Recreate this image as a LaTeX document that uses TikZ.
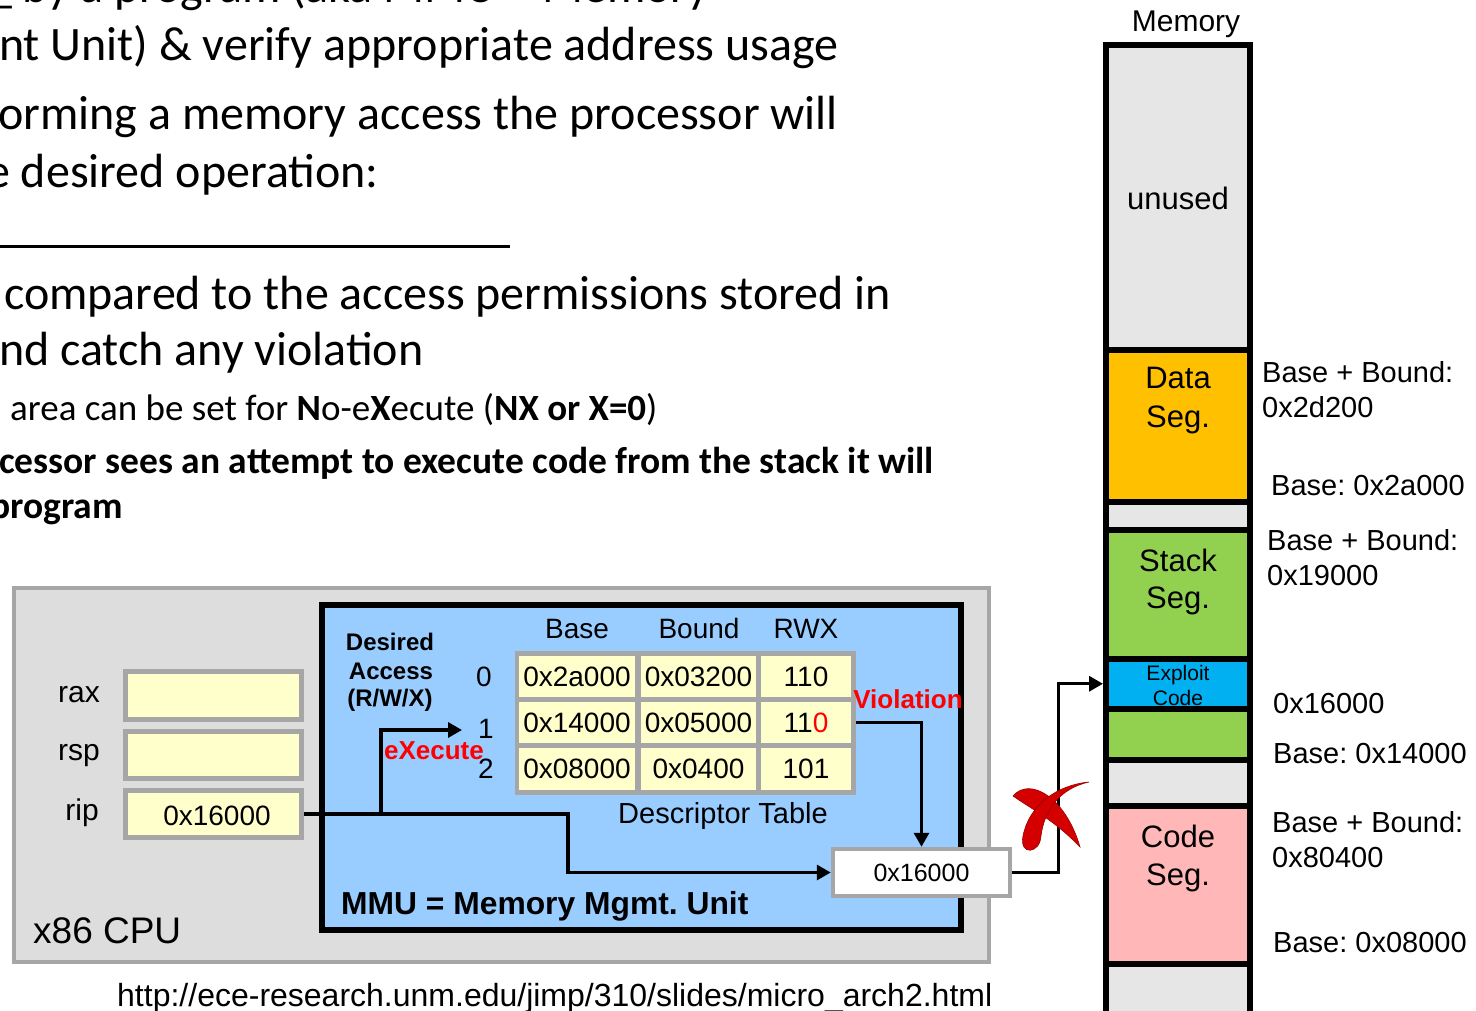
\documentclass[tikz,border=0pt]{standalone}
\usepackage{fontspec}
\setmainfont{Liberation Sans}
\newfontfamily\calibri{Carlito}
\usetikzlibrary{arrows.meta}
\definecolor{cpugray}{HTML}{DDDDDD}
\definecolor{bordgray}{HTML}{A6A6A6}
\definecolor{regyellow}{HTML}{FFFFCC}
\definecolor{mmublue}{HTML}{99CCFF}
\definecolor{memgray}{HTML}{E6E6E6}
\definecolor{dataor}{HTML}{FFC000}
\definecolor{stackgr}{HTML}{92D050}
\definecolor{exblue}{HTML}{00B0F0}
\definecolor{codepink}{HTML}{FFB7B7}
\definecolor{xred}{HTML}{D40000}
\definecolor{xdark}{HTML}{9A0000}
\definecolor{vred}{HTML}{FF0000}
\newcommand{\fsz}[2]{\fontsize{#1}{#2}\selectfont}
\frenchspacing
\begin{document}
\frenchspacing
\begin{tikzpicture}[x=1pt,y=-1pt,
  conn/.style={line width=3.3pt},
  arr/.style={conn,-{Triangle[length=14pt,width=15pt]}},
  lbl/.style={inner sep=0pt,font=\fsz{28}{34}},
  memlbl/.style={inner sep=0pt,font=\fsz{29}{34}},
  seglbl/.style={inner sep=0pt,font=\fsz{31}{37},anchor=base},
  slide/.style={inner sep=0pt,anchor=base west,font=\calibri\fsz{48}{58}},
  slidesm/.style={inner sep=0pt,anchor=base west,font=\calibri\fsz{37}{44}},
  reg/.style={draw=bordgray,fill=regyellow,line width=4.5pt,minimum width=176pt,inner sep=0pt,font=\fsz{28}{34}},
  cell/.style={fill=regyellow,inner sep=0pt,font=\fsz{28}{34}},
  seg/.style={draw=black,line width=6pt,minimum width=144pt,inner sep=0pt},
  redlbl/.style={inner sep=0pt,text=vred,font=\bfseries\fsz{26}{30}}
]
\useasboundingbox (0,0) rectangle (1476,1011);
\clip (0,0) rectangle (1476,1011);

% ---------- slide text ----------
\node[slide] (t1) at (-12,3) {\_ by a program (aka MMU = Memory};
\node[slide] (t2) at (-1,61) {nt Unit) \& verify appropriate address usage};
\node[slide] (t3) at (-2,130) {orming a memory access the processor will};
\node[slide] (t4) at (-14,188) {e desired operation:};
\fill (0,245) rectangle (510,248);
\node[slide] (t6) at (4,309) {compared to the access permissions stored in};
\node[slide] (t7) at (-1,365) {nd catch any violation};
\node[slidesm] (t8) at (10,420) {area can be set for \textbf{N}o-e\textbf{X}ecute (\textbf{NX or X=0})};
\node[slidesm,font=\calibri\bfseries\fsz{37.5}{44}] (t9) at (-1,473) {cessor sees an attempt to execute code from the stack it will};
\node[slidesm,font=\calibri\bfseries\fsz{37.5}{44}] (t10) at (-10,518) {program};

% ---------- CPU ----------
\node[draw=bordgray,fill=cpugray,line width=4pt,minimum width=975.5pt,minimum height=373.5pt,inner sep=0pt] (cpu) at (501.25,774.75) {};
\node[inner sep=0pt,anchor=base west,font=\fsz{37}{44}] (cpul) at (33,943) {x86 CPU};

\node[reg,minimum height=48pt] (rax) at (213.5,695.5) {};
\node[reg,minimum height=47pt] (rsp) at (213.5,755) {};
\node[reg,minimum height=47pt] (rip) at (213.5,814) {};
\node[inner sep=0pt,anchor=base] (ripv) at (217,825) {\fsz{28}{34}0x16000};
\node[lbl,anchor=base east,font=\fsz{30}{34}] (raxl) at (100,702) {rax};
\node[lbl,anchor=base east,font=\fsz{30}{34}] (rspl) at (100,760) {rsp};
\node[lbl,anchor=base east,font=\fsz{30}{34}] (ripl) at (99,820) {rip};

% ---------- MMU ----------
\node[draw=black,fill=mmublue,line width=5.5pt,minimum width=639pt,minimum height=325pt,inner sep=0pt] (mmu) at (641.5,767.5) {};

\node[inner sep=0pt,anchor=base,font=\bfseries\fsz{24}{28}] (da1) at (390,650) {Desired};
\node[inner sep=0pt,anchor=base,font=\bfseries\fsz{24}{28}] (da2) at (391,679) {Access};
\node[inner sep=0pt,anchor=base,font=\bfseries\fsz{24}{28}] (da3) at (390,706) {(R/W/X)};

\node[lbl,anchor=base] (hbase) at (577,638) {Base};
\node[lbl,anchor=base] (hbound) at (699,638) {Bound};
\node[lbl,anchor=base] (hrwx) at (806,638) {RWX};

\node[lbl,anchor=base] (n0) at (484,686) {0};
\node[lbl,anchor=base] (n1) at (486,738) {1};
\node[lbl,anchor=base] (n2) at (486,778) {2};

\node[fill=bordgray,minimum width=340.5pt,minimum height=144pt,inner sep=0pt] (tbl) at (685.25,723) {};
\node[cell,minimum width=116pt,minimum height=41pt] (c00) at (577,676.5) {0x2a000};
\node[cell,minimum width=115pt,minimum height=41pt] (c01) at (698.5,676.5) {0x03200};
\node[cell,minimum width=90pt,minimum height=41pt] (c02) at (806,676.5) {110};
\node[cell,minimum width=116pt,minimum height=41pt] (c10) at (577,722.5) {0x14000};
\node[cell,minimum width=115pt,minimum height=41pt] (c11) at (698.5,722.5) {0x05000};
\node[cell,minimum width=90pt,minimum height=41pt] (c12) at (806,722.5) {11\textcolor{vred}{0}};
\node[cell,minimum width=116pt,minimum height=42pt] (c20) at (577,769) {0x08000};
\node[cell,minimum width=115pt,minimum height=42pt] (c21) at (698.5,769) {0x0400};
\node[cell,minimum width=90pt,minimum height=42pt] (c22) at (806,769) {101};

\node[lbl,anchor=base,font=\fsz{29}{34}] (dtl) at (723,823) {Descriptor Table};
\node[inner sep=0pt,anchor=base west,font=\bfseries\fsz{31.8}{36}] (mmul) at (341,914) {MMU = Memory Mgmt. Unit};

\node[draw=bordgray,fill=white,line width=4.5pt,minimum width=177pt,minimum height=47pt,inner sep=0pt,font=\fsz{25}{30}] (out) at (921.5,872.5) {0x16000};

% ---------- connectors in MMU ----------
\coordinate (split) at (381,814);
\coordinate (xin) at (462,730);
\coordinate (bend) at (568,814);
\draw[conn] (rip.east) -- (split);
\draw[arr] (split) |- (xin);
\draw[arr] (split) -- (bend) |- (out.west);
\draw[arr] (tbl.east |- c12.east) -| (out.north);

\node[redlbl,anchor=base] (viol) at (908,708) {Violation};
\node[redlbl,anchor=base] (exec) at (434,759) {eXecute};

% ---------- Memory ----------
\node[inner sep=0pt,anchor=base,font=\fsz{30}{36}] (meml) at (1186,32) {Memory};
\node[seg,fill=memgray,minimum height=304pt] (unused) at (1178,197.5) {};
\node[seg,fill=dataor,minimum height=152.5pt] (data) at (1178,425.75) {};
\node[seg,fill=memgray,minimum height=28pt] (gap1) at (1178,516) {};
\node[seg,fill=stackgr,minimum height=128.5pt] (stack) at (1178,594.25) {};
\node[seg,fill=exblue,minimum height=50.5pt] (exploit) at (1178,683.75) {};
\node[seg,fill=stackgr,minimum height=50.5pt] (stack2) at (1178,734.25) {};
\node[seg,fill=memgray,minimum height=46.5pt] (gap2) at (1178,782.75) {};
\node[seg,fill=codepink,minimum height=157.5pt] (code) at (1178,884.75) {};
\node[seg,fill=memgray,minimum height=66.5pt] (gap3) at (1178,996.75) {};

\node[seglbl] (unl) at (1178,210) {unused};
\node[seglbl] (dl1) at (1178,388) {Data};
\node[seglbl] (dl2) at (1178,427) {Seg.};
\node[seglbl] (sl1) at (1178,571) {Stack};
\node[seglbl] (sl2) at (1178,608) {Seg.};
\node[seglbl,font=\fsz{21}{25}] (el1) at (1178,680) {Exploit};
\node[seglbl,font=\fsz{21}{25}] (el2) at (1178,705) {Code};
\node[seglbl] (cl1) at (1178,847) {Code};
\node[seglbl] (cl2) at (1178,885) {Seg.};

\node[memlbl,anchor=base west] (m1) at (1262,382) {Base + Bound:};
\node[memlbl,anchor=base west] (m2) at (1262,417) {0x2d200};
\node[memlbl,anchor=base west] (m3) at (1271,495) {Base: 0x2a000};
\node[memlbl,anchor=base west] (m4) at (1267,550) {Base + Bound:};
\node[memlbl,anchor=base west] (m5) at (1267,585) {0x19000};
\node[memlbl,anchor=base west] (m6) at (1273,713) {0x16000};
\node[memlbl,anchor=base west] (m7) at (1273,763) {Base: 0x14000};
\node[memlbl,anchor=base west] (m8) at (1272,832) {Base + Bound:};
\node[memlbl,anchor=base west] (m9) at (1272,867) {0x80400};
\node[memlbl,anchor=base west] (m10) at (1273,952) {Base: 0x08000};

% ---------- connector to memory ----------
\coordinate (jx) at (1058.5,683.75);
\draw[arr] (out.east) -| (jx) -- (exploit.west);

% ---------- red X ----------
\fill[xred,draw=xdark,line width=0.6pt] (1013,796) .. controls (1030,776) and (1066,798) .. (1080,847)
   .. controls (1054,820) and (1033,810) .. (1013,796) -- cycle;
\fill[xred,draw=xdark,line width=0.6pt] (1089,782) .. controls (1058,789) and (1044,812) .. (1041,836)
   .. controls (1040,854) and (1019,856) .. (1023,836)
   .. controls (1029,805) and (1057,785) .. (1089,782) -- cycle;

% ---------- URL ----------
\node[inner sep=0pt,anchor=base west,font=\fsz{32}{38}] (url) at (117,1006) {http://ece-research.unm.edu/jimp/310/slides/micro\_arch2.html};
\end{tikzpicture}
\end{document}
